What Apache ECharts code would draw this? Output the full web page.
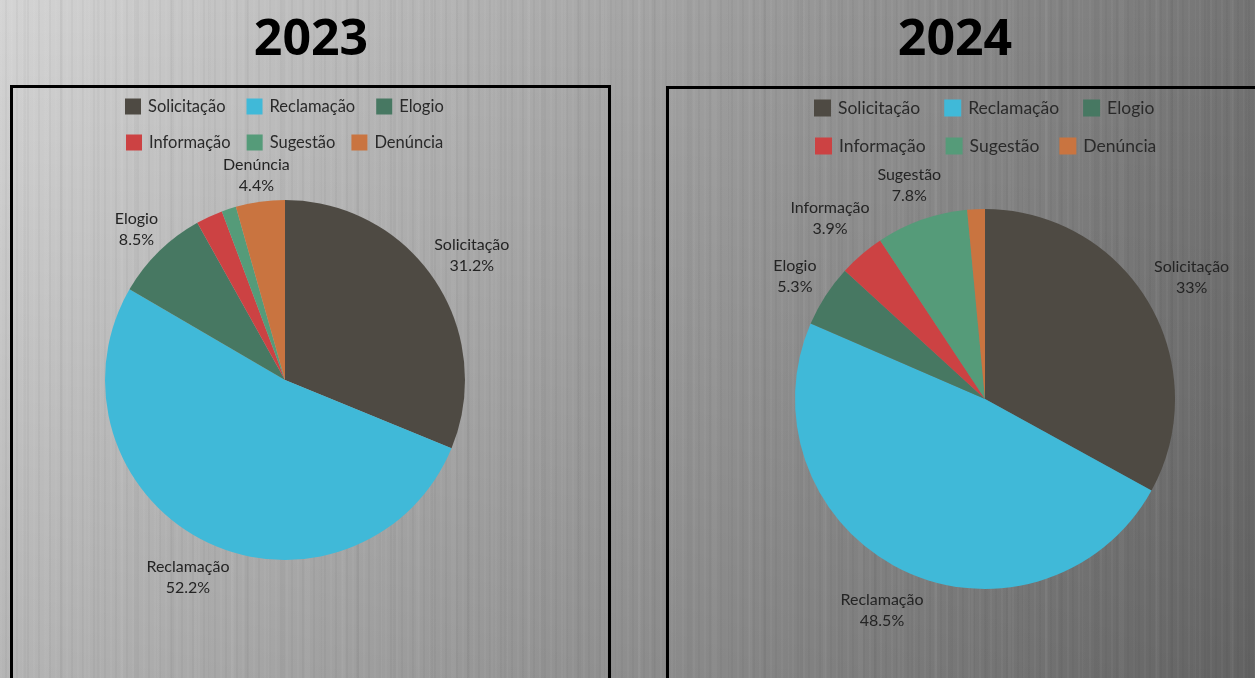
<!DOCTYPE html>
<html lang="pt">
<head>
<meta charset="utf-8">
<title>Manifestações 2023 e 2024</title>
<script src="https://cdn.jsdelivr.net/npm/echarts@6/dist/echarts.min.js"></script>
<style>
  html, body { margin: 0; padding: 0; }
  body {
    width: 1255px; height: 678px; overflow: hidden;
    background:
      repeating-linear-gradient(90deg, rgba(255,255,255,0.035) 0 2px, rgba(0,0,0,0) 2px 5px, rgba(0,0,0,0.03) 5px 7px, rgba(0,0,0,0) 7px 11px),
      repeating-linear-gradient(90deg, rgba(0,0,0,0) 0 9px, rgba(255,255,255,0.03) 9px 12px, rgba(0,0,0,0) 12px 23px, rgba(0,0,0,0.025) 23px 26px, rgba(0,0,0,0) 26px 37px),
      linear-gradient(180deg, rgba(0,0,0,0) 0%, rgba(0,0,0,0.15) 100%),
      linear-gradient(90deg, #d4d4d4 0%, #a6a6a6 50%, #737373 100%);
  }
  #chart { width: 1255px; height: 678px; }
</style>
</head>
<body>
<div id="chart"></div>
<script>
// Categories and percentage shares per year
const categories = ['Solicitação', 'Reclamação', 'Elogio', 'Informação', 'Sugestão', 'Denúncia'];
const values2023 = [31.2, 52.2, 8.5, 2.4, 1.3, 4.4];
const values2024 = [33, 48.5, 5.3, 3.9, 7.8, 1.5];
const years = ['2023', '2024'];

const palette = ['#4e4a43', '#40b9d8', '#477862', '#cc4243', '#559b79', '#c97440'];
const textFont = 'Lato, "Open Sans", sans-serif';

function toData(values) {
  return categories.map((name, i) => ({ name, value: values[i] }));
}

// Slices under 3% carry no label
function labelText(p) {
  return p.percent < 3 ? '' : p.name + '\n' + p.percent + '%';
}

// Sets each label just clear of the pie rim, centred on its slice's bisector
function rimLayout(values, center, r, gap) {
  const total = values.reduce((a, b) => a + b, 0);
  const starts = [];
  values.reduce((acc, v, i) => { starts[i] = acc; return acc + v; }, 0);
  return function (p) {
    const i = p.dataIndex;
    const a = (starts[i] + values[i] / 2) / total * Math.PI * 2;
    const sx = Math.sin(a), sy = -Math.cos(a);
    const hw = p.labelRect.width / 2, hh = p.labelRect.height / 2;
    const d = r + gap + hw * Math.abs(sx) + hh * Math.abs(sy);
    return { x: center[0] + sx * d, y: center[1] + sy * d + 1, align: 'center', verticalAlign: 'middle' };
  };
}

function pieSeries(values, center, r, fontSize, gap) {
  return {
    type: 'pie',
    center: center,
    radius: [0, r],
    startAngle: 90,
    clockwise: true,
    avoidLabelOverlap: false,
    silent: true,
    data: toData(values),
    itemStyle: { borderWidth: 0 },
    label: {
      show: true,
      position: 'inside',
      formatter: labelText,
      color: '#242424',
      fontFamily: textFont,
      fontSize: fontSize,
      lineHeight: 21,
      align: 'center'
    },
    labelLine: { show: false },
    labelLayout: rimLayout(values, center, r, gap)
  };
}

function legend(names, left, top, size, gap, fontSize) {
  return {
    data: names,
    left: left,
    top: top,
    padding: 0,
    orient: 'horizontal',
    icon: 'rect',
    itemWidth: size,
    itemHeight: size,
    itemGap: gap,
    selectedMode: false,
    textStyle: { color: '#2a2a2a', fontFamily: textFont, fontSize: fontSize, padding: [0, 0, 0, 2] }
  };
}

const chart = echarts.init(document.getElementById('chart'), null, { renderer: 'canvas' });

chart.setOption({
  backgroundColor: 'transparent',
  color: palette,
  animation: false,
  title: [
    {
      text: years[0], left: 306, top: 11, textAlign: 'center',
      textStyle: { color: '#000', fontFamily: '"Open Sans", sans-serif', fontWeight: 'bold', fontSize: 50 }
    },
    {
      text: years[1], left: 950, top: 11, textAlign: 'center',
      textStyle: { color: '#000', fontFamily: '"Open Sans", sans-serif', fontWeight: 'bold', fontSize: 50 }
    }
  ],
  legend: [
    legend(categories.slice(0, 3), 125, 98, 16, 21, 16.5),
    legend(categories.slice(3), 126, 134, 16, 16, 16.5),
    legend(categories.slice(0, 3), 814, 99, 17, 24, 17.5),
    legend(categories.slice(3), 815, 137, 17, 20, 17.5)
  ],
  graphic: [
    {
      type: 'rect', silent: true,
      shape: { x: 11.5, y: 86.5, width: 598, height: 620 },
      style: { fill: 'none', stroke: '#000', lineWidth: 3 }
    },
    {
      type: 'rect', silent: true,
      shape: { x: 667.5, y: 87.5, width: 640, height: 620 },
      style: { fill: 'none', stroke: '#000', lineWidth: 3 }
    }
  ],
  series: [
    pieSeries(values2023, [285, 380], 180, 16, 2),
    pieSeries(values2024, [985, 399], 190, 16, 7)
  ]
});
</script>
</body>
</html>
